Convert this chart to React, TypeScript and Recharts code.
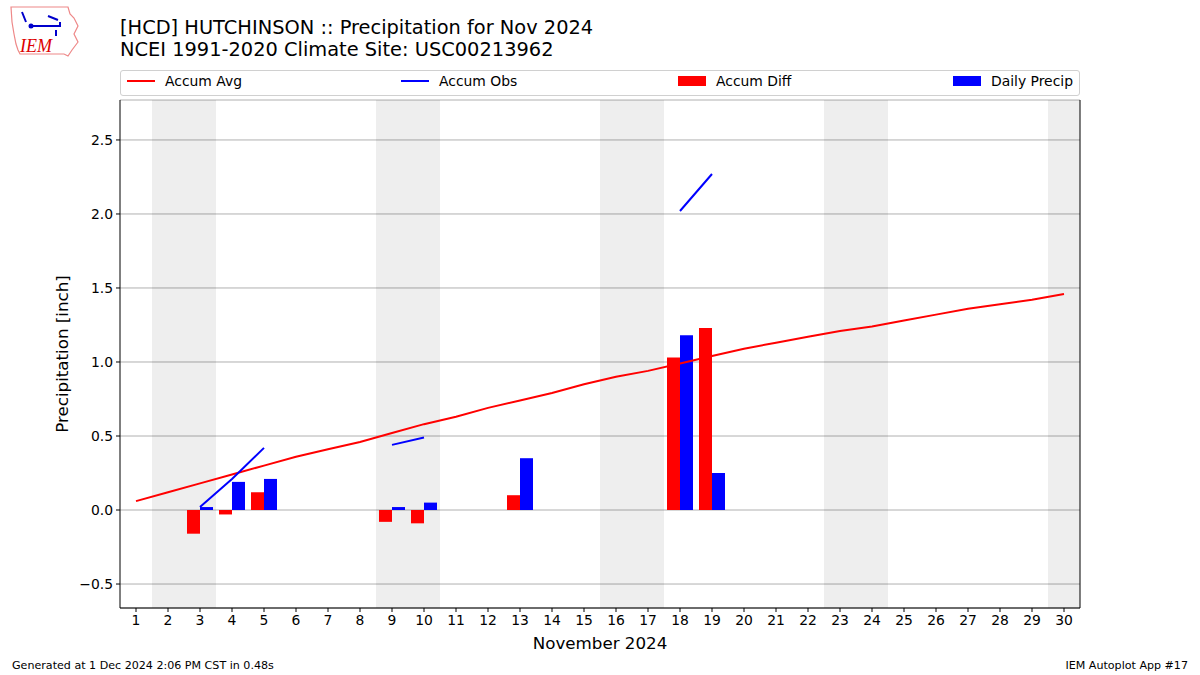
import React from 'react';
import {
    ComposedChart, Bar, Line, XAxis, YAxis, CartesianGrid, ReferenceArea, Label,
} from 'recharts';

const FONT = '"DejaVu Sans", Verdana, sans-serif';

const days = [1, 2, 3, 4, 5, 6, 7, 8, 9, 10, 11, 12, 13, 14, 15, 16, 17, 18, 19, 20, 21, 22, 23, 24, 25, 26, 27, 28, 29, 30];
const accumAvg = [0.06, 0.12, 0.18, 0.24, 0.30, 0.36, 0.41, 0.46, 0.52, 0.58, 0.63, 0.69, 0.74, 0.79, 0.85, 0.90, 0.94, 0.99, 1.04, 1.09, 1.13, 1.17, 1.21, 1.24, 1.28, 1.32, 1.36, 1.39, 1.42, 1.46];
const accumObs = [null, null, 0.02, 0.21, 0.42, null, null, null, 0.44, 0.49, null, null, 0.84, null, null, null, null, 2.02, 2.27, null, null, null, null, null, null, null, null, null, null, null];
const accumDiff = [null, null, -0.16, -0.03, 0.12, null, null, null, -0.08, -0.09, null, null, 0.10, null, null, null, null, 1.03, 1.23, null, null, null, null, null, null, null, null, null, null, null];
const dailyPrecip = [null, null, 0.02, 0.19, 0.21, null, null, null, 0.02, 0.05, null, null, 0.35, null, null, null, null, 1.18, 0.25, null, null, null, null, null, null, null, null, null, null, null];
const weekends = [[1.5, 3.5], [8.5, 10.5], [15.5, 17.5], [22.5, 24.5], [29.5, 30.5]];
const yTicks = [-0.5, 0, 0.5, 1.0, 1.5, 2.0, 2.5];

const data = days.map((d, i) => ({
    day: d,
    avg: accumAvg[i],
    obs: accumObs[i],
    diff: accumDiff[i],
    precip: dailyPrecip[i],
}));

const fmt = (v: number) => (v < 0 ? '\u2212' + Math.abs(v).toFixed(1) : v.toFixed(1));

const legendItems = [
    {name: 'Accum Avg', color: '#ff0000', kind: 'line', left: 6},
    {name: 'Accum Obs', color: '#0000ff', kind: 'line', left: 280},
    {name: 'Accum Diff', color: '#ff0000', kind: 'rect', left: 557},
    {name: 'Daily Precip', color: '#0000ff', kind: 'rect', left: 832},
];

const Logo = () => (
    <svg width={80} height={60} style={{position: 'absolute', left: 8, top: 4}}>
        <path d="M3 3 L60 3 L62 10 L66 14 L70 22 L66 30 L70 38 L64 46 L60 52 L56 50 L50 50 L12 50 L10 46 L8 40 L6 30 L4 18 Z"
              fill="none" stroke="#e88" strokeWidth={1.2}/>
        <path d="M22 22 L52 22 L52 18 M48 26 L48 32 M40 12 L50 16 M14 8 L18 18" stroke="#00c" strokeWidth={2} fill="none"/>
        <circle cx={23} cy={22} r={2.5} fill="#00c"/>
        <text x={12} y={48} fontFamily="Liberation Serif, serif" fontStyle="italic" fontSize={18} fill="#d00">IEM</text>
    </svg>
);

export default function App() {
    return (
        <div style={{position: 'absolute', left: 0, top: 0, width: 1200, height: 675, background: '#fff', fontFamily: FONT}}>
            <Logo/>
            <div style={{position: 'absolute', left: 120, top: 17, fontSize: 19.4, lineHeight: '22px', color: '#000'}}>
                <div>[HCD] HUTCHINSON :: Precipitation for Nov 2024</div>
                <div>NCEI 1991-2020 Climate Site: USC00213962</div>
            </div>
            <div style={{
                position: 'absolute', left: 120, top: 70, width: 958, height: 24,
                border: '1px solid #d0d0d0', borderRadius: 3, fontSize: 13.9, color: '#000',
            }}>
                {legendItems.map((it) => (
                    <div key={it.name} style={{position: 'absolute', left: it.left, top: -2, height: 24, display: 'flex', alignItems: 'center'}}>
                        {it.kind === 'line'
                            ? <div style={{width: 28, height: 2, background: it.color}}/>
                            : <div style={{width: 28, height: 10, background: it.color}}/>}
                        <span style={{marginLeft: 10}}>{it.name}</span>
                    </div>
                ))}
            </div>
            <ComposedChart width={1200} height={675} data={data} barGap={0}
                           margin={{top: 100, right: 119, bottom: 17, left: 60}}
                           style={{fontFamily: FONT}}>
                {weekends.map(([a, b]) => (
                    <ReferenceArea key={a} x1={a} x2={b} fill="#000000" fillOpacity={0.067} stroke="none" ifOverflow="hidden"/>
                ))}
                <CartesianGrid vertical={false} stroke="#b0b0b0" strokeWidth={1}/>
                <XAxis dataKey="day" type="number" domain={[0.5, 30.5]} ticks={days} interval={0}
                       allowDataOverflow height={50}
                       tick={{fill: '#000', fontSize: 13.9}} tickSize={4} tickMargin={3}
                       axisLine={{stroke: '#000'}} tickLine={{stroke: '#000'}}>
                    <Label value="November 2024" position="insideBottom" offset={9} fill="#000" fontSize={16.7}/>
                </XAxis>
                <XAxis xAxisId="top" orientation="top" type="number" domain={[0.5, 30.5]} height={0}
                       tick={false} tickLine={false} axisLine={{stroke: '#000'}}/>
                <YAxis type="number" domain={[-0.662, 2.77]} ticks={yTicks} allowDataOverflow width={60}
                       tickFormatter={fmt} tick={{fill: '#000', fontSize: 13.9}} tickSize={4} tickMargin={3}
                       axisLine={{stroke: '#000'}} tickLine={{stroke: '#000'}}>
                    <Label value="Precipitation [inch]" angle={-90} position="insideLeft" offset={2}
                           fill="#000" fontSize={16.7} style={{textAnchor: 'middle'}}/>
                </YAxis>
                <YAxis yAxisId="right" orientation="right" width={1} domain={[0, 1]}
                       tick={false} tickLine={false} axisLine={{stroke: '#000'}}/>
                <Bar dataKey="diff" fill="#ff0000" barSize={13} isAnimationActive={false}/>
                <Bar dataKey="precip" fill="#0000ff" barSize={13} isAnimationActive={false}/>
                <Line dataKey="avg" stroke="#ff0000" strokeWidth={2} dot={false} isAnimationActive={false}/>
                <Line dataKey="obs" stroke="#0000ff" strokeWidth={2} dot={false} connectNulls={false} isAnimationActive={false}/>
            </ComposedChart>
            <div style={{position: 'absolute', left: 12, top: 659, fontSize: 11.1}}>Generated at 1 Dec 2024 2:06 PM CST in 0.48s</div>
            <div style={{position: 'absolute', right: 12, top: 659, fontSize: 11.1}}>IEM Autoplot App #17</div>
        </div>
    );
}
